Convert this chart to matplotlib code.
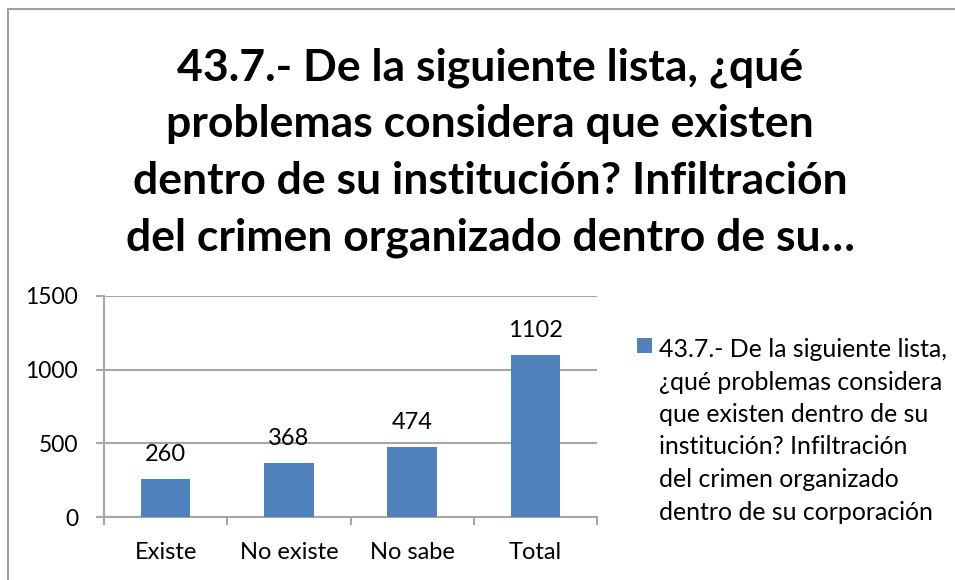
import matplotlib
matplotlib.use("Agg")
import matplotlib.pyplot as plt
from matplotlib.patches import Rectangle

categories = ["Existe", "No existe", "No sabe", "Total"]
values = [260, 368, 474, 1102]
yticks = [0, 500, 1000, 1500]
title = ("43.7.- De la siguiente lista, ¿qué\nproblemas considera que existen\n"
         "dentro de su institución? Infiltración\ndel crimen organizado dentro de su…")
series_label = ("43.7.- De la siguiente lista,\n¿qué problemas considera\nque existen dentro de su\n"
                "institución? Infiltración\ndel crimen organizado\ndentro de su corporación")

bar_color = "#4F81BD"
grid_color = "#A6A6A6"
font = "Lato"

fig = plt.figure(figsize=(9.55, 5.8), dpi=100)
fig.patch.set_facecolor("white")

# outer chart frame
fig.patches.append(Rectangle((7.5 / 955, -0.1), 1.2, 1 - 8.5 / 580 + 0.1,
                             transform=fig.transFigure, fill=False,
                             edgecolor="#A0A0A0", linewidth=1.5))

ax = fig.add_axes([104 / 955, 1 - 517 / 580, (597 - 104) / 955, (517 - 296) / 580])
x = range(len(categories))
bars = ax.bar(x, values, width=0.40, color=bar_color, zorder=3)
ax.set_xlim(-0.5, len(categories) - 0.5)
ax.set_ylim(0, 1500)
ax.set_yticks(yticks)
ax.set_yticklabels([str(v) for v in yticks], fontsize=16.5, family=font)
ax.set_xticks(list(x))
ax.set_xticklabels(categories, fontsize=17, family=font)
ax.tick_params(axis="x", length=0, pad=18)
ax.tick_params(axis="y", length=5.8, width=1.5, color=grid_color, pad=12.8)
ax.set_xticks([i - 0.5 for i in range(len(categories) + 1)], minor=True)
ax.tick_params(axis="x", which="minor", length=5.8, width=1.5, color=grid_color)
ax.grid(axis="y", color=grid_color, linewidth=1.5, zorder=0)
for side in ("top", "right"):
    ax.spines[side].set_visible(False)
for side in ("left", "bottom"):
    ax.spines[side].set_color(grid_color)
    ax.spines[side].set_linewidth(1.5)

for b, v in zip(bars, values):
    ax.annotate(str(v), (b.get_x() + b.get_width() / 2, v), xytext=(0, 10),
                textcoords="offset points", ha="center", va="bottom",
                fontsize=17, family=font)

fig.text(490 / 955, 1 - 47 / 580, title, ha="center", va="top", fontsize=32,
         fontweight="bold", family=font, linespacing=1.5)

# series key
fig.patches.append(Rectangle((637 / 955, 1 - 353 / 580), 15 / 955, 15 / 580,
                             transform=fig.transFigure, facecolor=bar_color,
                             edgecolor="none"))
fig.text(659 / 955, 1 - 338 / 580, series_label, ha="left", va="top",
         fontsize=17.9, family=font, linespacing=1.5)

fig.savefig("out.png", dpi=100)
